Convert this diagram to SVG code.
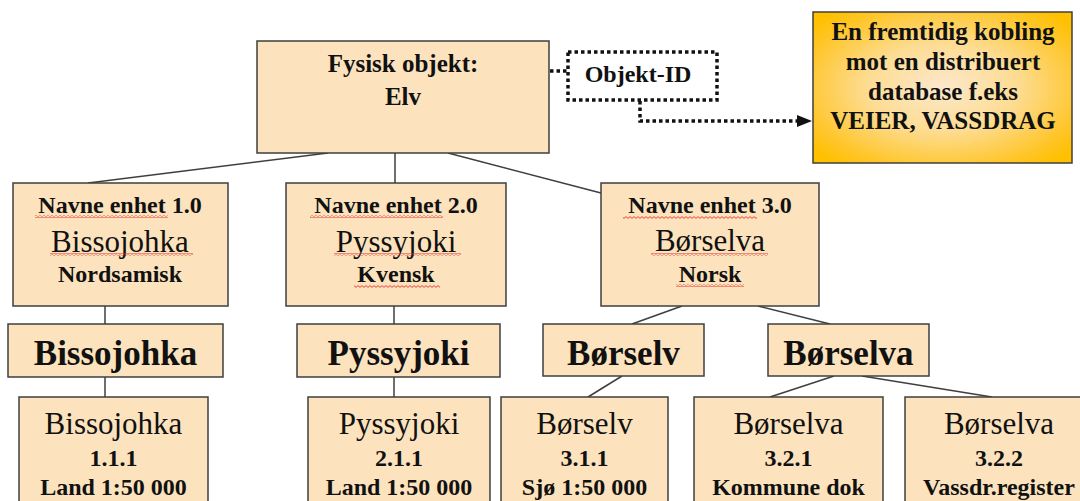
<svg xmlns="http://www.w3.org/2000/svg" width="1080" height="501" viewBox="0 0 1080 501">
<style>
.box{fill:#FCE3BD;stroke:#3f3f3f;stroke-width:1.5}
.t{font-family:"Liberation Serif","Times New Roman",serif;fill:#111;text-anchor:middle}
.b{font-weight:bold}
.s24{font-size:24px}
.s25{font-size:25px}
.s31{font-size:31px}
.s35{font-size:35px}
.ln{stroke:#3f3f3f;stroke-width:1.5;fill:none}
.dot{stroke:#111;stroke-width:3.5;fill:none;stroke-dasharray:3.5 3}
.sq{fill:url(#squig)}
</style>
<defs>
<radialGradient id="gold" cx="50%" cy="50%" r="65%">
<stop offset="0" stop-color="#FCE8CC"/>
<stop offset="0.45" stop-color="#FDDC92"/>
<stop offset="0.85" stop-color="#FFC526"/>
<stop offset="1" stop-color="#FFC000"/>
</radialGradient>
<pattern id="squig" patternUnits="userSpaceOnUse" width="4" height="3">
<path d="M0,2.4 L2,0.6 L4,2.4" stroke="#E03030" stroke-width="0.9" fill="none"/>
</pattern>
</defs>

<g id="connectors">
<line class="ln" x1="328" y1="153" x2="88" y2="183"/>
<line class="ln" x1="395" y1="153" x2="395" y2="183"/>
<line class="ln" x1="448" y1="153" x2="601" y2="193"/>
<line class="ln" x1="105" y1="306" x2="105" y2="324"/>
<line class="ln" x1="105" y1="377" x2="105" y2="397"/>
<line class="ln" x1="394" y1="306" x2="394" y2="324"/>
<line class="ln" x1="394" y1="377" x2="394" y2="397"/>
<line class="ln" x1="682" y1="306" x2="632" y2="324"/>
<line class="ln" x1="758" y1="306" x2="830" y2="324"/>
<line class="ln" x1="622" y1="376" x2="588" y2="397"/>
<line class="ln" x1="834" y1="376" x2="770" y2="397"/>
<line class="ln" x1="862" y1="376" x2="992" y2="397"/>
<line class="dot" x1="550" y1="71" x2="568" y2="71"/>
<path class="dot" d="M640,101 V121 H797"/>
<polygon points="797,115 812,121 797,127" fill="#111"/>
</g>

<g id="top">
<rect class="box" x="257" y="41" width="292" height="112"/>
<text class="t b s25" x="403" y="72">Fysisk objekt:</text>
<text class="t b s25" x="403" y="105">Elv</text>
</g>

<g id="objekt-id">
<rect x="568" y="52" width="149" height="48" fill="#FCE3BD" class="dot"/>
<text class="t b s24" x="638" y="82">Objekt-ID</text>
</g>

<g id="fremtidig">
<rect x="813" y="12" width="259" height="151" fill="url(#gold)" stroke="#3f3f3f" stroke-width="1.5"/>
<text class="t b s25" x="943" y="40">En fremtidig kobling</text>
<text class="t b s25" x="943" y="70">mot en distribuert</text>
<text class="t b s25" x="943" y="100">database f.eks</text>
<text class="t b s25" x="943" y="129">VEIER, VASSDRAG</text>
</g>

<g id="n1">
<rect class="box" x="13" y="183" width="215" height="123"/>
<text class="t b s24" x="120" y="213">Navne enhet 1.0</text>
<text class="t s31" x="120" y="252">Bissojohka</text>
<text class="t b s24" x="120" y="282">Nordsamisk</text>
<rect class="sq" x="35" y="215" width="133" height="3"/>
<rect class="sq" x="50" y="253" width="143" height="3"/>
</g>

<g id="n2">
<rect class="box" x="286" y="183" width="220" height="123"/>
<text class="t b s24" x="396" y="213">Navne enhet 2.0</text>
<text class="t s31" x="396" y="252">Pyssyjoki</text>
<text class="t b s24" x="396" y="282">Kvensk</text>
<rect class="sq" x="310" y="215" width="133" height="3"/>
<rect class="sq" x="334" y="253" width="127" height="3"/>
<rect class="sq" x="354" y="285" width="86" height="3"/>
</g>

<g id="n3">
<rect class="box" x="601" y="183" width="218" height="123"/>
<text class="t b s24" x="710" y="213">Navne enhet 3.0</text>
<text class="t s31" x="710" y="251">Børselva</text>
<text class="t b s24" x="710" y="282">Norsk</text>
<rect class="sq" x="623" y="216" width="134" height="3"/>
<rect class="sq" x="651" y="253" width="117" height="3"/>
<rect class="sq" x="676" y="284" width="68" height="3"/>
</g>

<g id="l3a">
<rect class="box" x="8" y="324" width="215" height="53"/>
<text class="t b s35" x="115.5" y="365">Bissojohka</text>
</g>
<g id="l3b">
<rect class="box" x="297" y="324" width="203" height="53"/>
<text class="t b s35" x="398.5" y="365">Pyssyjoki</text>
</g>
<g id="l3c">
<rect class="box" x="543" y="324" width="161" height="52"/>
<text class="t b s35" x="623.5" y="365">Børselv</text>
</g>
<g id="l3d">
<rect class="box" x="768" y="324" width="161" height="52"/>
<text class="t b s35" x="848.5" y="365">Børselva</text>
</g>

<g id="l4a">
<rect class="box" x="19" y="397" width="189" height="115"/>
<text class="t s31" x="113.5" y="434">Bissojohka</text>
<text class="t b s24" x="113.5" y="466">1.1.1</text>
<text class="t b s24" x="113.5" y="495">Land 1:50 000</text>
</g>
<g id="l4b">
<rect class="box" x="308" y="397" width="182" height="115"/>
<text class="t s31" x="399" y="434">Pyssyjoki</text>
<text class="t b s24" x="399" y="466">2.1.1</text>
<text class="t b s24" x="399" y="495">Land 1:50 000</text>
</g>
<g id="l4c">
<rect class="box" x="501" y="397" width="167" height="115"/>
<text class="t s31" x="584.5" y="434">Børselv</text>
<text class="t b s24" x="584.5" y="466">3.1.1</text>
<text class="t b s24" x="584.5" y="495">Sjø 1:50 000</text>
</g>
<g id="l4d">
<rect class="box" x="694" y="397" width="189" height="115"/>
<text class="t s31" x="788.5" y="434">Børselva</text>
<text class="t b s24" x="788.5" y="466">3.2.1</text>
<text class="t b s24" x="788.5" y="495">Kommune dok</text>
</g>
<g id="l4e">
<rect class="box" x="905" y="397" width="190" height="115"/>
<text class="t s31" x="999" y="434">Børselva</text>
<text class="t b s24" x="999" y="466">3.2.2</text>
<text class="t b s24" x="999" y="495">Vassdr.register</text>
</g>
</svg>
